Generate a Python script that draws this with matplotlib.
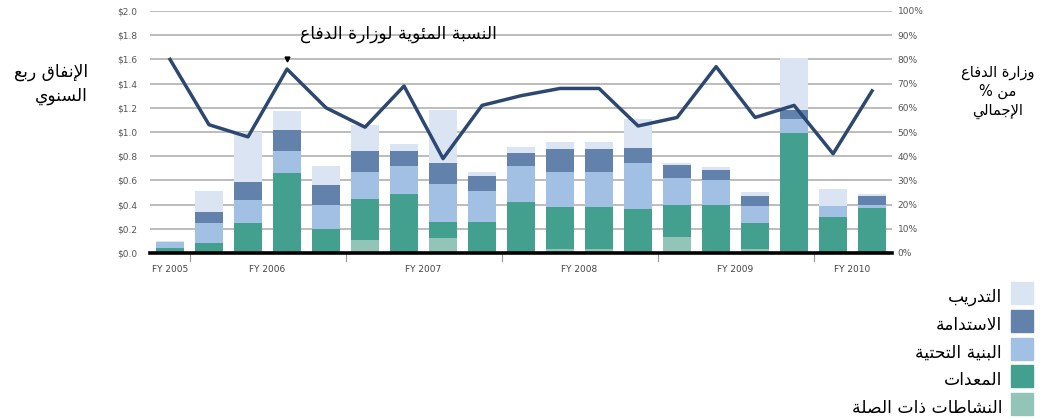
import numpy as np
import matplotlib
matplotlib.use("Agg")
import matplotlib.pyplot as plt
from matplotlib.patches import Rectangle

# Arabic letters -> (isolated presentation form, number of forms)
AR_FORMS = {
    'ء': (0xFE80, 1), 'آ': (0xFE81, 2), 'أ': (0xFE83, 2), 'ؤ': (0xFE85, 2), 'إ': (0xFE87, 2),
    'ئ': (0xFE89, 4), 'ا': (0xFE8D, 2), 'ب': (0xFE8F, 4), 'ة': (0xFE93, 2), 'ت': (0xFE95, 4),
    'ث': (0xFE99, 4), 'ج': (0xFE9D, 4), 'ح': (0xFEA1, 4), 'خ': (0xFEA5, 4), 'د': (0xFEA9, 2),
    'ذ': (0xFEAB, 2), 'ر': (0xFEAD, 2), 'ز': (0xFEAF, 2), 'س': (0xFEB1, 4), 'ش': (0xFEB5, 4),
    'ص': (0xFEB9, 4), 'ض': (0xFEBD, 4), 'ط': (0xFEC1, 4), 'ظ': (0xFEC5, 4), 'ع': (0xFEC9, 4),
    'غ': (0xFECD, 4), 'ف': (0xFED1, 4), 'ق': (0xFED5, 4), 'ك': (0xFED9, 4), 'ل': (0xFEDD, 4),
    'م': (0xFEE1, 4), 'ن': (0xFEE5, 4), 'ه': (0xFEE9, 4), 'و': (0xFEED, 2), 'ى': (0xFEEF, 2),
    'ي': (0xFEF1, 4),
}
LAM_ALEF = {'آ': 0xFEF5, 'أ': 0xFEF7, 'إ': 0xFEF9, 'ا': 0xFEFB}


def ar(text):
    # matplotlib has no arabic shaping -> do joining forms + visual order by hand
    chars = []
    i = 0
    while i < len(text):
        c = text[i]
        if c == 'ل' and i + 1 < len(text) and text[i + 1] in LAM_ALEF:
            chars.append(('LA', LAM_ALEF[text[i + 1]]))
            i += 2
        else:
            chars.append((c, None))
            i += 1
    out = []
    for k, (c, la) in enumerate(chars):
        prev = chars[k - 1][0] if k > 0 else None
        nxt = chars[k + 1][0] if k + 1 < len(chars) else None
        joins_prev = prev in AR_FORMS and AR_FORMS[prev][1] == 4
        if c == 'LA':
            out.append(chr(la + (1 if joins_prev else 0)))
            continue
        if c not in AR_FORMS:
            out.append(c)
            continue
        base, n = AR_FORMS[c]
        joins_next = n == 4 and nxt is not None and (nxt in AR_FORMS or nxt == 'LA')
        if n == 1:
            form = base
        elif joins_prev and joins_next:
            form = base + 3
        elif joins_prev:
            form = base + 1
        elif joins_next:
            form = base + 2
        else:
            form = base
        out.append(chr(form))
    return ''.join(reversed(out))


# data (quarters, FY2005 Q4 .. FY2010 Q2), $ billions
related = [0.00, 0.01, 0.02, 0.02, 0.01, 0.11, 0.01, 0.12, 0.02, 0.01, 0.03, 0.03, 0.02, 0.13, 0.02, 0.03, 0.02, 0.01, 0.01]
equipment = [0.04, 0.07, 0.23, 0.64, 0.19, 0.34, 0.48, 0.14, 0.24, 0.41, 0.35, 0.35, 0.34, 0.27, 0.38, 0.22, 0.97, 0.29, 0.36]
infrastructure = [0.05, 0.17, 0.19, 0.18, 0.20, 0.22, 0.23, 0.31, 0.25, 0.30, 0.29, 0.29, 0.38, 0.22, 0.20, 0.14, 0.12, 0.09, 0.03]
sustainment = [0.00, 0.09, 0.15, 0.18, 0.16, 0.17, 0.12, 0.17, 0.13, 0.11, 0.19, 0.19, 0.13, 0.11, 0.09, 0.08, 0.07, 0.00, 0.07]
training = [0.01, 0.17, 0.41, 0.15, 0.16, 0.22, 0.06, 0.44, 0.03, 0.05, 0.06, 0.06, 0.24, 0.01, 0.02, 0.03, 0.43, 0.14, 0.02]
dod_pct = [80, 53, 48, 76, 60, 52, 69, 39, 61, 65, 68, 68, 52.5, 56, 77, 56, 61, 41, 67]

fy_labels = ['FY 2005', 'FY 2006', 'FY 2007', 'FY 2008', 'FY 2009', 'FY 2010']
fy_pos = [0, 2.5, 6.5, 10.5, 14.5, 17.5]
fy_breaks = [0.5, 4.5, 8.5, 12.5, 16.5]

series_names = ['النشاطات ذات الصلة', 'المعدات', 'البنية التحتية', 'الاستدامة', 'التدريب']
series_colors = ['#93c4b8', '#44a08e', '#a2bfe4', '#6281ab', '#dbe4f3']

title_txt = 'النسبة المئوية لوزارة الدفاع'
left_lbl = ['الإنفاق ربع', 'السنوي']
right_lbl = ['وزارة الدفاع', 'من %', 'الإجمالي']

fig = plt.figure(figsize=(10.4, 4.19), dpi=100)
ax = fig.add_axes([150 / 1040, 1 - 253 / 419, 742 / 1040, 242 / 419])
x = np.arange(len(related))

bottom = np.zeros(len(x))
for vals, col in zip([related, equipment, infrastructure, sustainment, training], series_colors):
    ax.bar(x, vals, 0.7, bottom=bottom, color=col, zorder=2)
    bottom += np.array(vals)

ax.set_xlim(-0.513, 18.51)
ax.set_ylim(0, 2.0)
ax.set_yticks(np.arange(0, 2.01, 0.2))
ax.set_yticklabels(['$%.1f' % v for v in np.arange(0, 2.01, 0.2)])
ax.yaxis.grid(True, color='#aaaaaa', lw=1.1, zorder=0)
ax.set_axisbelow(True)
for s in ax.spines.values():
    s.set_visible(False)
ax.tick_params(axis='y', length=0, pad=9, labelsize=6.5, labelcolor='#555555')
ax.set_xticks([])
ax.axhline(0, color='black', lw=2.6, zorder=4, clip_on=False)

for xb in fy_breaks:
    ax.plot([xb, xb], [-0.01, -0.07], color='#999999', lw=0.8, clip_on=False)
for xp, lab in zip(fy_pos, fy_labels):
    ax.text(xp, -0.1, lab, ha='center', va='top', fontsize=6.5, color='#444444')

ax2 = ax.twinx()
ax2.set_ylim(0, 100)
ax2.set_yticks(np.arange(0, 101, 10))
ax2.set_yticklabels(['%d%%' % v for v in range(0, 101, 10)])
ax2.tick_params(axis='y', length=0, pad=4, labelsize=6.5, labelcolor='#555555')
for s in ax2.spines.values():
    s.set_visible(False)
ax2.plot(x, dod_pct, color='#2d4870', lw=2.5, zorder=5)
ax2.plot(3, 80, marker='v', color='black', ms=3.5)

fig.text(398 / 1040, 1 - 34 / 419, ar(title_txt), ha='center', va='center', fontsize=12.3)
fig.text(88 / 1040, 1 - 84 / 419, '\n'.join(ar(t) for t in left_lbl), ha='right', va='center',
         fontsize=12.3, linespacing=1.35)
fig.text(998 / 1040, 1 - 92 / 419, '\n'.join(ar(t) for t in right_lbl), ha='center', va='center',
         fontsize=10.5, linespacing=1.35)

# legend, top to bottom: training .. related
for k, (name, col) in enumerate(zip(series_names[::-1], series_colors[::-1])):
    yc = 293 + 27.8 * k
    fig.patches.append(Rectangle((1011 / 1040, 1 - (yc + 11) / 419), 22 / 1040, 22 / 419,
                                 transform=fig.transFigure, color=col))
    fig.text(1002 / 1040, 1 - (yc + 4) / 419, ar(name), ha='right', va='center', fontsize=12.3)

fig.savefig('out.png', dpi=100)
